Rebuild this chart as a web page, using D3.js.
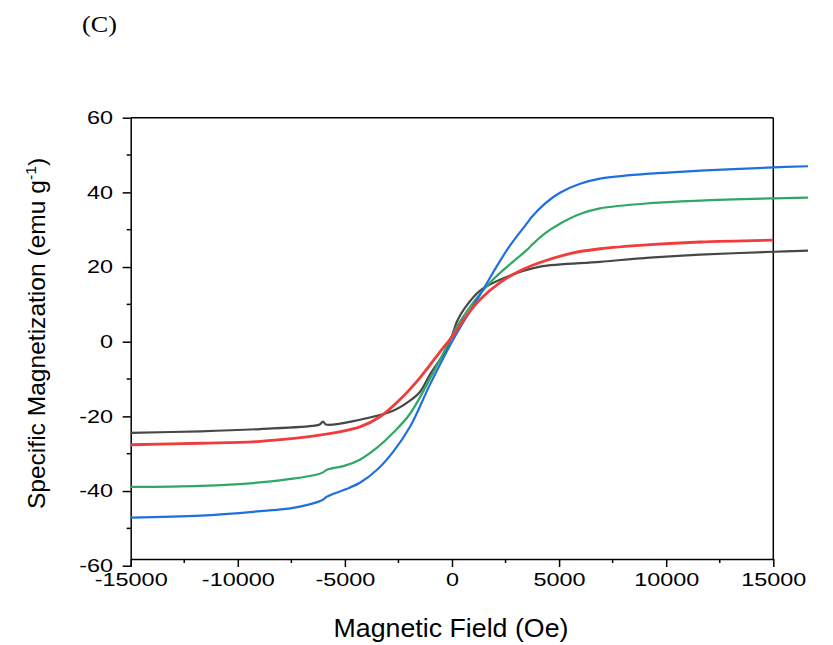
<!DOCTYPE html>
<html>
<head>
<meta charset="utf-8">
<script src="https://cdn.jsdelivr.net/npm/d3@7"></script>
<style>
  html, body { margin: 0; padding: 0; background: #fff; }
  svg { display: block; }
  text { font-family: "Liberation Sans", Arial, sans-serif; fill: #000; }
</style>
</head>
<body>
<svg id="chart" width="833" height="645"></svg>
<script>
// Magnetic field (Oe) sample points and specific magnetization (emu/g) per sample
const fieldBlack = [-15000, -11730, -8960, -6400, -6160, -6020, -5880, -4300, -2750, -1960, -1490, -1030, -330, 0, 230, 610, 1310, 2570, 4110, 6910, 9240, 11580, 15030, 16620];
const magBlack   = [-24.4, -24.0, -23.4, -22.5, -22.1, -21.4, -22.2, -20.9, -18.5, -15.8, -13.4, -8.8, -2.7, 1.6, 5.4, 9.1, 13.7, 17.4, 20.1, 21.4, 22.5, 23.3, 24.1, 24.4];

const fieldRed = [-15000, -11730, -8960, -6020, -4300, -3360, -2430, -1490, -560, 0, 610, 1310, 2240, 3180, 4110, 5510, 6910, 9240, 11580, 15000];
const magRed   = [-27.6, -27.2, -26.7, -24.9, -22.8, -20.1, -15.5, -9.6, -2.7, 1.3, 6.4, 11.3, 15.8, 19.0, 21.2, 23.6, 24.9, 26.0, 26.7, 27.2];

const fieldGreen = [-15000, -11730, -8960, -7420, -6260, -6020, -5840, -5000, -4300, -3500, -2750, -1960, -560, 370, 1770, 3500, 3690, 4340, 5040, 5980, 6910, 9240, 11580, 15030, 16620];
const magGreen   = [-38.9, -38.6, -37.7, -36.7, -35.5, -35.0, -34.3, -33.2, -31.6, -28.4, -24.4, -19.3, -4.8, 5.4, 15.8, 24.6, 25.7, 29.0, 31.6, 34.2, 35.7, 37.1, 37.8, 38.4, 38.6];

const fieldBlue = [-15000, -11730, -8960, -7420, -6260, -6020, -5840, -5000, -4300, -3500, -2750, -1960, -1030, 0, 1310, 2570, 3550, 3690, 4340, 5040, 5980, 6910, 9240, 11580, 15030, 16620];
const magBlue   = [-47.1, -46.6, -45.4, -44.5, -42.9, -42.3, -41.5, -39.6, -37.8, -34.3, -29.5, -22.8, -11.5, 0.0, 12.6, 24.6, 32.1, 33.2, 37.0, 39.9, 42.3, 43.7, 45.0, 45.8, 46.7, 47.0];

const xTicks = [-15000, -10000, -5000, 0, 5000, 10000, 15000];
const yTicks = [-60, -40, -20, 0, 20, 40, 60];

const series = [
  { name: "black", field: fieldBlack, mag: magBlack, color: "#474747", width: 2.2 },
  { name: "green", field: fieldGreen, mag: magGreen, color: "#2fa866", width: 2.2 },
  { name: "blue",  field: fieldBlue,  mag: magBlue,  color: "#1f6fe0", width: 2.2 },
  { name: "red",   field: fieldRed,   mag: magRed,   color: "#f03c3c", width: 2.8 }
];

const svg = d3.select("#chart");
const plotLeft = 130.7, plotRight = 773.3, plotTop = 117.7, plotBottom = 565.7;
const xAxisY = 559;
const tickFont = 18.6, tickStretch = 1.26;

const x = d3.scaleLinear().domain([-15000, 15000]).range([plotLeft, plotRight]);
const y = d3.scaleLinear().domain([-60, 60]).range([plotBottom, plotTop]);

// frame: top and right borders
svg.append("line").attr("x1", plotLeft).attr("x2", plotRight).attr("y1", plotTop).attr("y2", plotTop)
  .attr("stroke", "#000").attr("stroke-width", 1.5);
svg.append("line").attr("x1", plotRight).attr("x2", plotRight).attr("y1", plotTop).attr("y2", xAxisY)
  .attr("stroke", "#000").attr("stroke-width", 1.5);

// y axis with major and minor ticks
const yAxisG = svg.append("g").attr("transform", `translate(${plotLeft},0)`);
yAxisG.call(d3.axisLeft(y).tickValues(yTicks).tickFormat(d => String(d)).tickSize(8).tickSizeOuter(0));
yAxisG.selectAll(".tick text")
  .attr("x", -17.7 / tickStretch)
  .attr("transform", `scale(${tickStretch},1)`);
yAxisG.selectAll(".minor").data(d3.range(-50, 60, 20)).enter().append("line")
  .attr("class", "minor").attr("x1", -4).attr("x2", 0)
  .attr("y1", d => y(d)).attr("y2", d => y(d)).attr("stroke", "#000").attr("stroke-width", 1.5);

// x axis with major and minor ticks
const xAxisG = svg.append("g").attr("transform", `translate(0,${xAxisY})`);
xAxisG.call(d3.axisBottom(x).tickValues(xTicks).tickFormat(d => String(d)).tickSize(8).tickPadding(6).tickSizeOuter(0));
xAxisG.selectAll(".tick text").attr("transform", `scale(${tickStretch},1)`);
xAxisG.selectAll(".minor").data(d3.range(-12500, 15000, 5000)).enter().append("line")
  .attr("class", "minor").attr("y1", 0).attr("y2", 4)
  .attr("x1", d => x(d)).attr("x2", d => x(d)).attr("stroke", "#000").attr("stroke-width", 1.5);

svg.selectAll(".domain").attr("stroke", "#000").attr("stroke-width", 1.5);
svg.selectAll(".tick line").attr("stroke", "#000").attr("stroke-width", 1.5);
svg.selectAll(".tick text").style("font-size", tickFont + "px").style("font-family", '"Liberation Sans", Arial, sans-serif');

// magnetization curves
const line = d3.line().x(d => x(d[0])).y(d => y(d[1])).curve(d3.curveCatmullRom.alpha(0.5));
series.forEach(s => {
  svg.append("path")
    .datum(d3.zip(s.field, s.mag))
    .attr("fill", "none")
    .attr("stroke", s.color)
    .attr("stroke-width", s.width)
    .attr("stroke-linejoin", "round")
    .attr("d", line);
});

// axis titles
svg.append("text").attr("transform", `translate(451,636.7) scale(1.045,1)`)
  .attr("text-anchor", "middle").style("font-size", "25.6px").text("Magnetic Field (Oe)");

const yt = svg.append("text").attr("transform", `translate(45,333.5) rotate(-90) scale(1.05,1)`)
  .attr("text-anchor", "middle").style("font-size", "23.4px");
yt.append("tspan").text("Specific Magnetization (emu g");
yt.append("tspan").attr("dy", -9).style("font-size", "15px").text("-1");
yt.append("tspan").attr("dy", 9).text(")");

// panel label
svg.append("text").attr("transform", "translate(99.5,32) scale(1.09,1)").attr("text-anchor", "middle")
  .style("font-family", '"Liberation Serif", "Times New Roman", serif').style("font-size", "24px").text("(C)");
</script>
</body>
</html>
